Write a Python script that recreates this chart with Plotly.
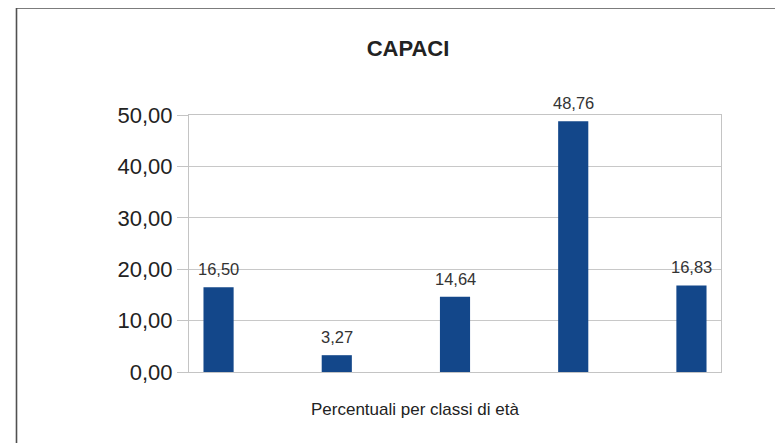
import plotly.graph_objects as go

categories = [0, 1, 2, 3, 4]
values = [16.50, 3.27, 14.64, 48.76, 16.83]
labels = ["16,50", "3,27", "14,64", "48,76", "16,83"]
y_ticks = [0, 10, 20, 30, 40, 50]

fig = go.Figure(go.Bar(
    x=categories, y=values, width=0.255,
    marker=dict(color="#13478A", line=dict(width=0)),
    hoverinfo="y",
))

annotations = [
    dict(x=c, y=v, xref="x", yref="y", text=t, showarrow=False,
         yanchor="middle", xanchor="center", yshift=18,
         font=dict(family="Liberation Sans", size=16.5, color="#333333"))
    for c, v, t in zip(categories, values, labels)
]
annotations.append(dict(
    x=(414.5 - 189) / 532, y=0, xref="paper", yref="paper", yshift=-37,
    xanchor="center", yanchor="middle", showarrow=False,
    text="Percentuali per classi di età",
    font=dict(family="Liberation Sans", size=17, color="#222222")))

fig.update_layout(
    width=783, height=443,
    margin=dict(l=181, r=70, t=107, b=79),
    paper_bgcolor="white", plot_bgcolor="white",
    separators=",.",
    showlegend=False,
    title=dict(text="<b>CAPACI</b>", x=400 / 783, xanchor="center", xref="container",
               y=1 - 40.5 / 443, yanchor="middle", yref="container",
               font=dict(family="Liberation Sans", size=22, color="#222222")),
    font=dict(family="Liberation Sans"),
    xaxis=dict(range=[-0.25, 4.25], showticklabels=False, showgrid=False, zeroline=False,
               showline=True, linecolor="#c4c4c4", linewidth=1, mirror=True, ticks=""),
    yaxis=dict(range=[0, 50], tickvals=y_ticks, tickformat=".2f",
               showgrid=True, gridcolor="#c8c8c8", gridwidth=1, zeroline=False,
               showline=True, linecolor="#c4c4c4", linewidth=1, mirror=True,
               ticks="outside", ticklen=11, tickcolor="#c4c4c4",
               tickfont=dict(family="Liberation Sans", size=22, color="#222222")),
    annotations=annotations,
    shapes=[
        dict(type="line", xref="paper", yref="paper", x0=-172.5 / 532, x1=1.2,
             y0=1 + 107 / 257, y1=1 + 107 / 257, line=dict(color="#505050", width=1.6)),
        dict(type="line", xref="paper", yref="paper", x0=-172.5 / 532, x1=-172.5 / 532,
             y0=1 + 107 / 257, y1=-0.4, line=dict(color="#505050", width=1.6)),
    ],
)

fig.write_html("out.html")
